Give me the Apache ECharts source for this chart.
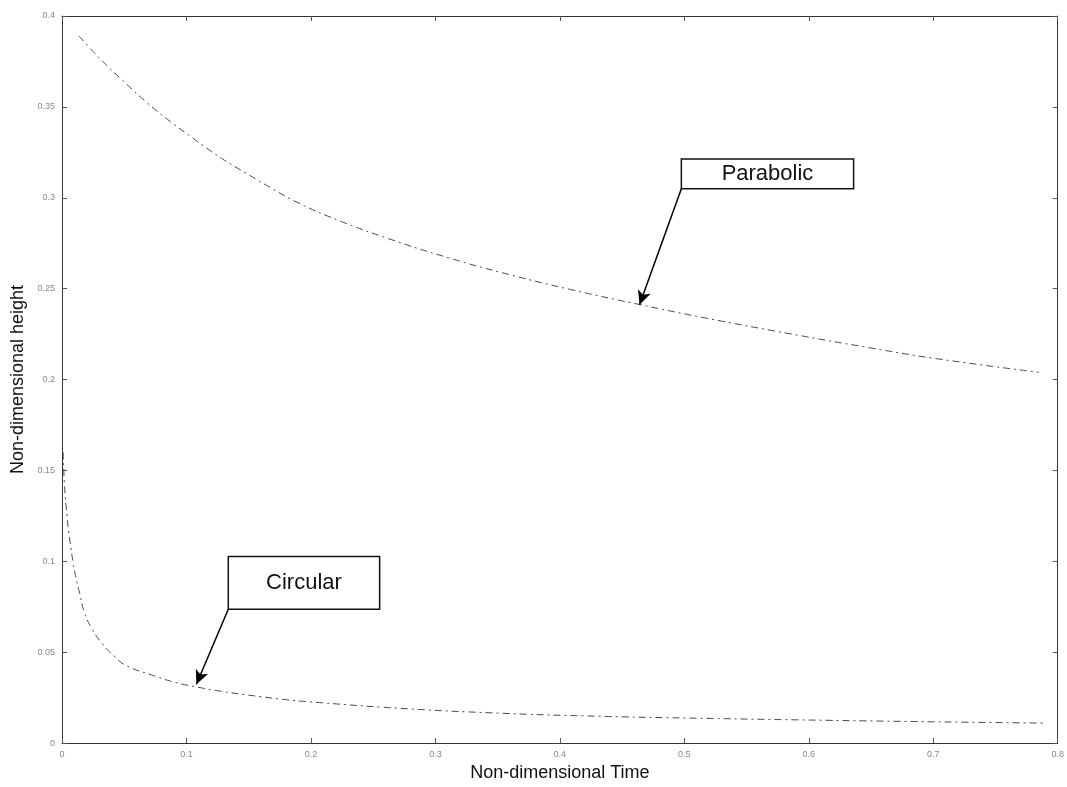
<!DOCTYPE html>
<html>
<head>
<meta charset="utf-8">
<script src="https://cdn.jsdelivr.net/npm/echarts@6/dist/echarts.min.js"></script>
<style>
html,body{margin:0;padding:0;background:#fff;}
#chart{width:1067px;height:787px;}
</style>
</head>
<body>
<div id="chart"></div>
<script>
// Tick labels
const xTicks = ['0','0.1','0.2','0.3','0.4','0.5','0.6','0.7','0.8'];
const yTicks = ['0','0.05','0.1','0.15','0.2','0.25','0.3','0.35','0.4'];

// Parabolic series: [time, height]
const parabolicT = [0.0136,0.0216,0.0328,0.0496,0.0688,0.0888,0.1048,0.12,0.132,0.148,0.169,0.1904,0.2224,0.2624,0.3104,0.3608,0.4088,0.4624,0.516,0.5824,0.6488,0.7024,0.785];
const parabolicH = [0.389,0.383,0.375,0.364,0.352,0.341,0.333,0.3255,0.320,0.3135,0.305,0.297,0.2875,0.2775,0.267,0.2575,0.2495,0.2415,0.234,0.2255,0.2175,0.2115,0.204];

// Circular series: [time, height]
const circularT = [0.001,0.002,0.004,0.0064,0.0088,0.0112,0.014,0.018,0.024,0.032,0.0424,0.052,0.072,0.0904,0.1088,0.128,0.1544,0.181,0.197,0.27,0.35,0.43,0.51,0.59,0.67,0.75,0.79];
const circularH = [0.160,0.142,0.125,0.111,0.100,0.091,0.083,0.072,0.063,0.055,0.0475,0.0425,0.0375,0.0335,0.0308,0.0285,0.026,0.0238,0.0228,0.0192,0.0165,0.0148,0.0137,0.0128,0.012,0.0113,0.011];

// Annotations: label, box [left, top, right, bottom], arrow tip [x, y] (data units)
const annLabels = ['Parabolic','Circular'];
const annBox = [[0.4976,0.3214,0.636,0.305],[0.1336,0.1027,0.2552,0.0736]];
const annTip = [[0.464,0.2412],[0.108,0.0324]];

const zip = (a,b) => a.map((v,i)=>[v,b[i]]);

const chart = echarts.init(document.getElementById('chart'));
const lineStyle = {color:'#4a4a4a', width:1, type:[7,4,2,4]};
const axisLineStyle = {onZero:false, lineStyle:{color:'#333', width:1}};
const tickIn = {show:true, inside:true, length:5, lineStyle:{color:'#555'}};
const labelStyle = {color:'#888', fontSize:9, fontFamily:'Liberation Sans, Arial'};

const option = {
  animation:false,
  backgroundColor:'#fff',
  grid:{left:62, right:4, top:16, bottom:43, show:false},
  xAxis:[{
    type:'value', min:0, max:0.8, interval:0.1, position:'bottom',
    name:'Non-dimensional Time', nameLocation:'middle', nameGap:20,
    nameTextStyle:{fontSize:18, color:'#111', fontFamily:'Liberation Sans, Arial'},
    axisLine:axisLineStyle, axisTick:tickIn, splitLine:{show:false},
    axisLabel:Object.assign({margin:7, formatter:(v)=>xTicks[Math.round(v*10)]}, labelStyle)
  },{
    type:'value', min:0, max:0.8, interval:0.1, position:'top',
    axisLine:axisLineStyle, axisTick:tickIn, splitLine:{show:false}, axisLabel:{show:false}
  }],
  yAxis:[{
    type:'value', min:0, max:0.4, interval:0.05, position:'left',
    name:'Non-dimensional height', nameLocation:'middle', nameGap:34, nameRotate:90,
    nameTextStyle:{fontSize:18, color:'#111', fontFamily:'Liberation Sans, Arial'},
    axisLine:axisLineStyle, axisTick:tickIn, splitLine:{show:false},
    axisLabel:Object.assign({margin:7, formatter:(v)=>yTicks[Math.round(v*20)]}, labelStyle)
  },{
    type:'value', min:0, max:0.4, interval:0.05, position:'right',
    axisLine:axisLineStyle, axisTick:tickIn, splitLine:{show:false}, axisLabel:{show:false}
  }],
  series:[{
    name:'Parabolic', type:'line', data:zip(parabolicT, parabolicH),
    smooth:true, showSymbol:false, lineStyle:lineStyle,
    markLine:{
      silent:true, symbol:['none','arrow'], symbolSize:[10,14],
      lineStyle:{color:'#000', width:1.5, type:'solid'}, label:{show:false},
      data:[[{coord:[annBox[0][0], annBox[0][3]]},{coord:annTip[0]}]]
    }
  },{
    name:'Circular', type:'line', data:zip(circularT, circularH),
    smooth:true, showSymbol:false, lineStyle:lineStyle,
    markLine:{
      silent:true, symbol:['none','arrow'], symbolSize:[10,14],
      lineStyle:{color:'#000', width:1.5, type:'solid'}, label:{show:false},
      data:[[{coord:[annBox[1][0], annBox[1][3]]},{coord:annTip[1]}]]
    }
  }]
};
chart.setOption(option);

const gfx = annLabels.map((lab,i)=>{
  const b = annBox[i];
  const p0 = chart.convertToPixel({xAxisIndex:0,yAxisIndex:0},[b[0],b[1]]);
  const p1 = chart.convertToPixel({xAxisIndex:0,yAxisIndex:0},[b[2],b[3]]);
  return {
    type:'group', children:[
      {type:'rect', shape:{x:p0[0], y:p0[1], width:p1[0]-p0[0], height:p1[1]-p0[1]},
       style:{fill:'#fff', stroke:'#111', lineWidth:1.5}, z:100},
      {type:'text', x:(p0[0]+p1[0])/2, y:(p0[1]+p1[1])/2,
       style:{text:lab, fill:'#111', font:'22px "Liberation Sans", Arial', align:'center', verticalAlign:'middle'}, z:101}
    ]
  };
});
chart.setOption({graphic:gfx});
</script>
</body>
</html>
